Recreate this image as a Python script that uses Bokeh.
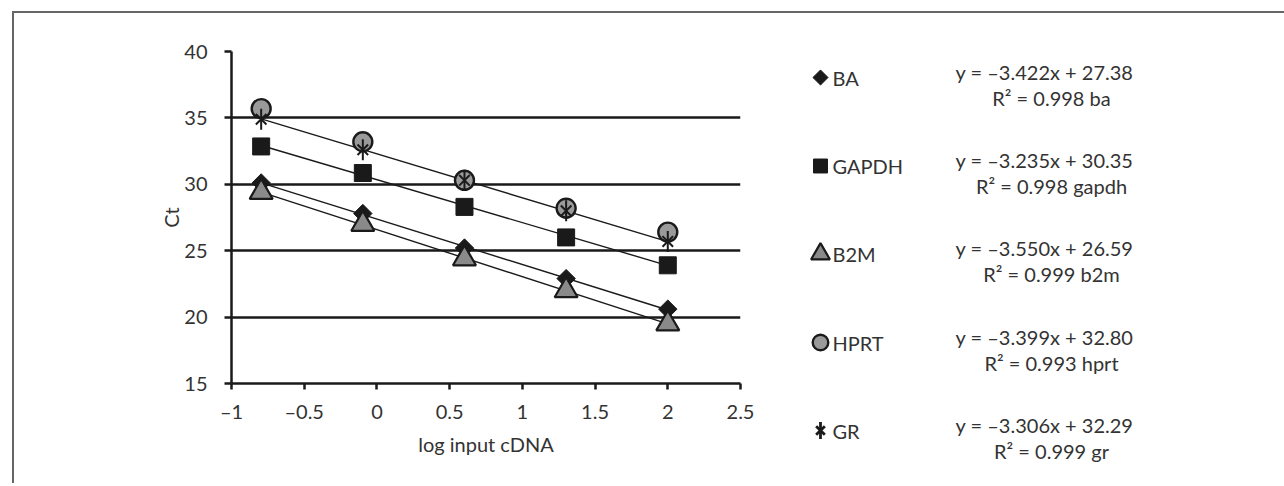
import numpy as np
from bokeh.plotting import figure
from bokeh.models import Range1d, FixedTicker
from bokeh.core.properties import value
from bokeh.embed import file_html
from bokeh.resources import INLINE

# ---------------- data ----------------
log_input = [-0.796, -0.097, 0.602, 1.301, 2.0]
series_names = ["BA", "GAPDH", "B2M", "HPRT", "GR"]
ct_ba = [30.1, 27.8, 25.2, 22.9, 20.6]
ct_gapdh = [32.85, 30.85, 28.3, 26.0, 23.9]
ct_b2m = [29.4, 27.0, 24.4, 22.0, 19.5]
ct_hprt = [35.7, 33.2, 30.3, 28.2, 26.4]
ct_gr = [34.9, 32.6, 30.3, 28.0, 25.7]
slopes = [-3.422, -3.235, -3.550, -3.399, -3.306]
intercepts = [27.38, 30.35, 26.59, 32.80, 32.29]
r_squared = [0.998, 0.998, 0.999, 0.993, 0.999]
show_trend = [True, True, True, False, True]
x_ticks = [-1, -0.5, 0, 0.5, 1, 1.5, 2, 2.5]
x_tick_labels = ["–1", "–0.5", "0", "0.5", "1", "1.5", "2", "2.5"]
y_ticks = [15, 20, 25, 30, 35, 40]
y_tick_labels = ["15", "20", "25", "30", "35", "40"]

all_ct = [ct_ba, ct_gapdh, ct_b2m, ct_hprt, ct_gr]

FONT = value("Lato")
FS = "20px"
TXT = "#333333"
BLK = "#1a1a1a"
EDGE = "2px solid #666666"

def place(left, top, **extra):
    d = {"position": "absolute", "left": f"{left}px", "top": f"{top}px"}
    d.update(extra)
    return d

# ---------------- main plot ----------------
p = figure(width=766, height=472, x_range=Range1d(-1, 2.5), y_range=Range1d(15, 40),
           output_backend="svg", toolbar_location=None,
           min_border_left=217, min_border_right=40, min_border_top=38, min_border_bottom=102,
           styles=place(12, 11, **{"border-left": EDGE, "border-top": EDGE}))
p.outline_line_color = None
p.background_fill_color = "white"
p.border_fill_color = "white"
p.xgrid.visible = False
p.ygrid.ticker = FixedTicker(ticks=[20, 25, 30, 35, 40])
p.ygrid.grid_line_color = BLK
p.ygrid.grid_line_width = 2.3

for ax in (p.xaxis[0], p.yaxis[0]):
    ax.axis_line_color = BLK
    ax.axis_line_width = 2.5
    ax.major_tick_line_color = BLK
    ax.major_tick_line_width = 2.5
    ax.major_tick_in = 0
    ax.minor_tick_line_color = None
    ax.major_label_text_font = "Lato"
    ax.major_label_text_font_size = FS
    ax.major_label_text_color = TXT
    ax.axis_label_text_font = "Lato"
    ax.axis_label_text_font_size = FS
    ax.axis_label_text_font_style = "normal"
    ax.axis_label_text_color = TXT

p.xaxis.ticker = FixedTicker(ticks=x_ticks)
p.xaxis.major_label_overrides = {t: l for t, l in zip(x_ticks, x_tick_labels)}
p.xaxis.major_tick_out = 6
p.xaxis.major_label_standoff = 9
p.xaxis.axis_label = "log input cDNA"
p.xaxis.axis_label_standoff = 6

p.yaxis.ticker = FixedTicker(ticks=y_ticks)
p.yaxis.major_label_overrides = {t: l for t, l in zip(y_ticks, y_tick_labels)}
p.yaxis.major_tick_out = 7
p.yaxis.major_label_standoff = 17
p.yaxis.axis_label = "Ct"
p.yaxis.axis_label_standoff = -2

# trend lines (from the fitted equations shown in the chart)
for s, b, show in zip(slopes, intercepts, show_trend):
    if not show:
        continue
    xs = [log_input[0], log_input[-1]]
    p.line(xs, [s * xs[0] + b, s * xs[1] + b], line_color=BLK, line_width=1.4)

GREY_T = "#8a8a8a"
GREY_C = "#9a9a9a"

def draw_markers(fig, xs, ys, name, scale=1.0, lw=2.0):
    if name == "BA":
        fig.scatter(xs, ys, marker="square", angle=np.pi / 4, size=13 * scale,
                    fill_color=BLK, line_color=BLK, line_width=1)
    elif name == "GAPDH":
        fig.scatter(xs, ys, marker="square", size=17 * scale, fill_color=BLK, line_color=BLK, line_width=1)
    elif name == "B2M":
        fig.scatter(xs, ys, marker="triangle", size=23 * scale, fill_color=GREY_T, line_color=BLK, line_width=2.2)
    elif name == "HPRT":
        fig.scatter(xs, ys, marker="circle", size=19 * scale, fill_color=GREY_C, line_color=BLK, line_width=2.4)
    elif name == "GR":
        fig.scatter(xs, ys, marker="x", size=15 * scale, line_color=BLK, line_width=lw)
        fig.scatter(xs, ys, marker="dash", size=21 * scale, angle=np.pi / 2, line_color=BLK, line_width=lw)

for name, ys in zip(series_names, all_ct):
    draw_markers(p, log_input, ys, name)

# ---------------- legend panel ----------------
leg = figure(width=506, height=472, x_range=Range1d(778, 1284), y_range=Range1d(485, 13),
             output_backend="svg", toolbar_location=None, min_border=0,
             styles=place(778, 11, **{"border-top": EDGE}))
leg.axis.visible = False
leg.grid.visible = False
leg.outline_line_color = None
leg.background_fill_color = "white"
leg.border_fill_color = "white"

row_y = [77, 165.5, 253.5, 342, 430]
marker_x = 820
for name, y in zip(series_names, row_y):
    draw_markers(leg, [marker_x], [y], name, scale=0.82, lw=2.8)

leg.text(x=[832] * 5, y=row_y, text=series_names, text_font=FONT, text_font_size=FS,
         text_color=TXT, text_align="left", text_baseline="middle")

eq1 = [f"y = –{abs(s):.3f}x + {b:.2f}" for s, b in zip(slopes, intercepts)]
eq2 = [f"R² = {r:.3f} {n.lower()}" for r, n in zip(r_squared, series_names)]
leg.text(x=[1044] * 5, y=[y - 6 for y in row_y], text=eq1, text_font=FONT, text_font_size=FS,
         text_color=TXT, text_align="center", text_baseline="middle")
leg.text(x=[1051] * 5, y=[y + 20 for y in row_y], text=eq2, text_font=FONT, text_font_size=FS,
         text_color=TXT, text_align="center", text_baseline="middle")

open("out.html", "w").write(file_html([p, leg], INLINE))
